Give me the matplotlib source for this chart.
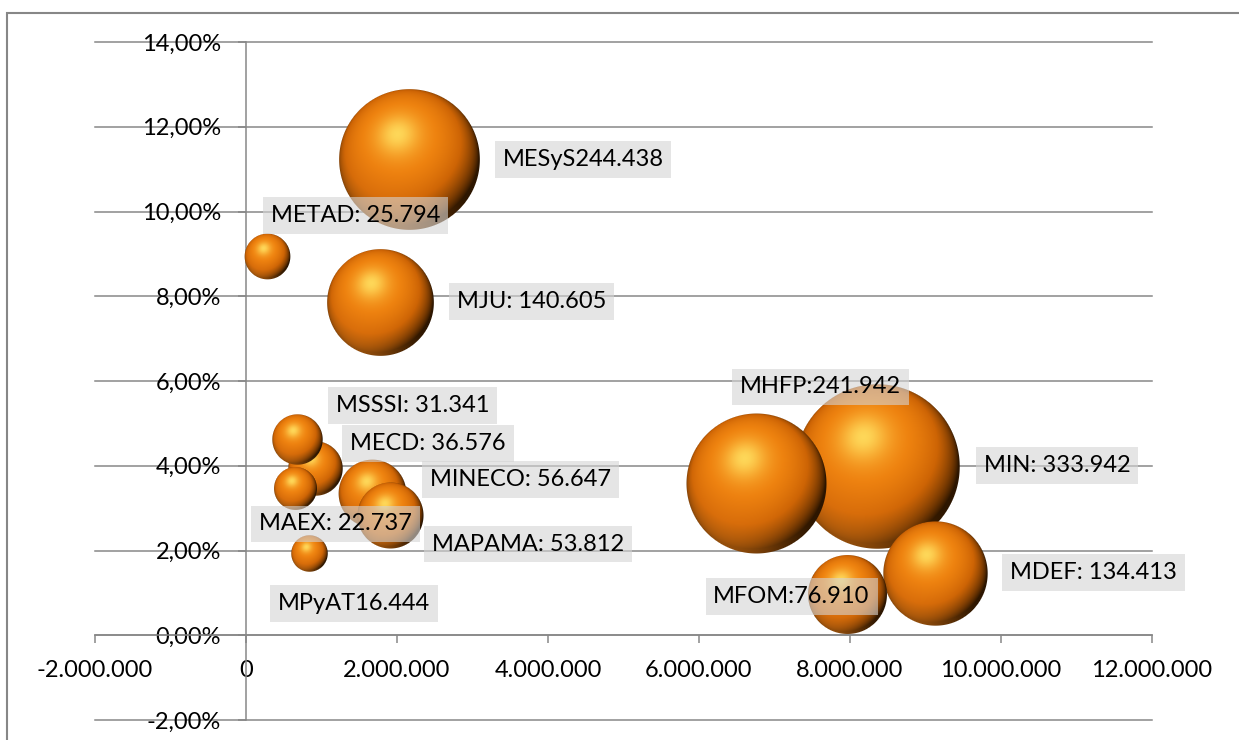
import numpy as np
import matplotlib
matplotlib.use("Agg")
import matplotlib.pyplot as plt
from matplotlib.ticker import FuncFormatter
from matplotlib.offsetbox import OffsetImage, AnnotationBbox
from matplotlib.patches import Rectangle

plt.rcParams['font.family'] = ['Lato', 'DejaVu Sans']

# data (x = amount, y = %, size = bubble value)
names = ['MESyS', 'METAD', 'MJU', 'MSSSI', 'MECD', 'MAEX', 'MINECO',
         'MAPAMA', 'MPyAT', 'MHFP', 'MIN', 'MDEF', 'MFOM']
x_vals = [2170000, 280000, 1780000, 680000, 920000, 660000, 1680000,
          1910000, 840000, 6760000, 8370000, 9130000, 7970000]
y_vals = [11.22, 8.94, 7.85, 4.63, 3.94, 3.46, 3.35,
          2.82, 1.94, 3.59, 3.99, 1.46, 0.97]
sizes = [244438, 25794, 140605, 31341, 36576, 22737, 56647,
         53812, 16444, 241942, 333942, 134413, 76910]
labels = ['MESyS244.438', 'METAD: 25.794', 'MJU: 140.605', 'MSSSI: 31.341',
          'MECD: 36.576', 'MAEX: 22.737', 'MINECO: 56.647', 'MAPAMA: 53.812',
          'MPyAT16.444', 'MHFP:241.942', 'MIN: 333.942', 'MDEF: 134.413',
          'MFOM:76.910']
# where each data label sits (left of text, vertical centre)
label_x = [3400000, 330000, 2790000, 1190000, 1380000, 170000, 2440000,
           2460000, 420000, 6540000, 9770000, 10120000, 6190000]
label_y = [11.23, 9.90, 7.87, 5.42, 4.53, 2.63, 3.68,
           2.15, 0.755, 5.86, 4.00, 1.475, 0.91]

x_ticks = list(range(-2000000, 12000001, 2000000))
y_ticks = list(range(-2, 15, 2))

W, H = 1239, 740
GRAY = '#878787'


def sphere(radius):
    # orange 3d ball like the excel bubble effect
    n = int(np.ceil(radius)) * 2 + 3
    c = (n - 1) / 2.0
    yy, xx = np.mgrid[0:n, 0:n]
    dx = (xx - c) / radius
    dy = -(yy - c) / radius
    d = np.sqrt(dx ** 2 + dy ** 2)
    inside = np.clip(1 - dx ** 2 - dy ** 2, 0, None)
    nz = np.sqrt(inside)
    L = np.array([-0.17, 0.36, 0.0])
    L[2] = np.sqrt(1 - L[0] ** 2 - L[1] ** 2)
    diff = np.clip(dx * L[0] + dy * L[1] + nz * L[2], 0, 1)
    stops = [0.0, 0.25, 0.55, 0.85, 1.0]
    rr = np.interp(diff, stops, [45, 120, 205, 238, 246])
    gg = np.interp(diff, stops, [22, 58, 100, 130, 150])
    bb = np.interp(diff, stops, [0, 2, 5, 15, 30])
    # soft bounce light on the lower left rim
    L2 = np.array([-0.45, -0.75, 0.25])
    L2 = L2 / np.linalg.norm(L2)
    rim = np.clip(dx * L2[0] + dy * L2[1] + nz * L2[2], 0, 1) ** 2 * 0.55
    rr = rr + (235 - rr) * rim
    gg = gg + (125 - gg) * rim
    bb = bb + (20 - bb) * rim
    # yellow highlight
    spec = diff ** 28
    rr = rr + (255 - rr) * spec * 0.9
    gg = gg + (222 - gg) * spec * 0.9
    bb = bb + (95 - bb) * spec * 0.9
    alpha = np.clip(radius + 0.5 - d * radius, 0, 1)
    img = np.dstack([rr / 255, gg / 255, bb / 255, alpha])
    return np.clip(img, 0, 1)


fig = plt.figure(figsize=(W / 100, H / 100), dpi=100)
ax = fig.add_axes([95 / W, 20 / H, (1152 - 95) / W, (720 - 42) / H])

# outer chart border (runs off the image at right/bottom)
fig.patches.append(Rectangle((7 / W, -0.1), 1.2, (740 - 13) / H + 0.1,
                             transform=fig.transFigure, fill=False,
                             edgecolor=GRAY, linewidth=1.5))

ax.set_xlim(-2000000, 12000000)
ax.set_ylim(-2, 14)
ax.set_xticks(x_ticks)
ax.set_yticks(y_ticks)
ax.xaxis.set_major_formatter(FuncFormatter(
    lambda v, p: f"{int(round(v)):,}".replace(',', '.')))
ax.yaxis.set_major_formatter(FuncFormatter(
    lambda v, p: f"{v:.2f}%".replace('.', ',')))

for side in ['top', 'right']:
    ax.spines[side].set_visible(False)
ax.spines['left'].set_position(('data', 0))
ax.spines['bottom'].set_position(('data', 0))
for side in ['left', 'bottom']:
    ax.spines[side].set_color(GRAY)
    ax.spines[side].set_linewidth(1.1)

ax.yaxis.grid(True, color=GRAY, linewidth=1.1)
ax.set_axisbelow(True)
for gl in ax.get_ygridlines():
    gl.set_clip_on(False)

ax.tick_params(axis='both', direction='out', length=6, width=1.1,
               color=GRAY, labelsize=17, labelcolor='black')
ax.tick_params(axis='y', pad=12)
ax.tick_params(axis='x', pad=12)

# bubbles: radius scales with sqrt of size, big ones behind
order = np.argsort(sizes)[::-1]
for z, i in enumerate(order):
    r = 4.5 * np.sqrt(sizes[i] / 1000.0)
    im = OffsetImage(sphere(r), zoom=1, dpi_cor=False)
    ab = AnnotationBbox(im, (x_vals[i], y_vals[i]), frameon=False, pad=0,
                        box_alignment=(0.5, 0.5), zorder=3 + z * 0.01)
    ax.add_artist(ab)

for i in range(len(names)):
    ax.text(label_x[i], label_y[i], labels[i], fontsize=17, ha='left',
            va='center', zorder=10,
            bbox=dict(boxstyle='square,pad=0.33', facecolor='#d4d4d4',
                      edgecolor='none', alpha=0.6))

fig.savefig('out.png', dpi=100)
